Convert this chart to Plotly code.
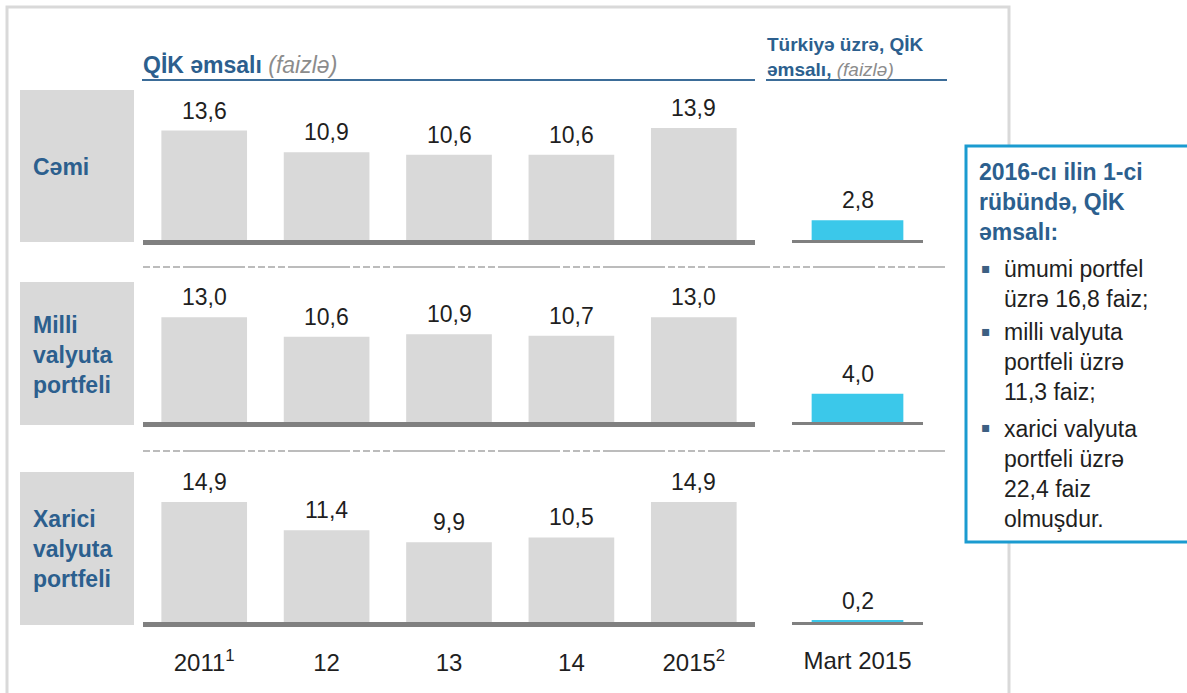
import plotly.graph_objects as go

# ---------------- data ----------------
categories = ["2011<sup>1</sup>", "12", "13", "14", "2015<sup>2</sup>"]
turkey_category = ["Mart 2015"]
row_labels = ["Cəmi", "Milli<br>valyuta<br>portfeli", "Xarici<br>valyuta<br>portfeli"]
total_values = [13.6, 10.9, 10.6, 10.6, 13.9]
national_values = [13.0, 10.6, 10.9, 10.7, 13.0]
foreign_values = [14.9, 11.4, 9.9, 10.5, 14.9]
turkey_values = [2.8, 4.0, 0.2]
title_main = "QİK əmsalı"
title_unit = "(faizlə)"
title_turkey = "Türkiyə üzrə, QİK<br>əmsalı,"
box_header = "2016-cı ilin 1-ci<br>rübündə, QİK<br>əmsalı:"
box_bullets = [
    "ümumi portfel<br>üzrə 16,8 faiz;",
    "milli valyuta<br>portfeli üzrə<br>11,3 faiz;",
    "xarici valyuta<br>portfeli üzrə<br>22,4 faiz<br>olmuşdur.",
]

series = [total_values, national_values, foreign_values]

# ---------------- layout helpers ----------------
W, H = 1187, 693
FONT = "Liberation Sans, Arial, sans-serif"
BLUE = "#2c5f8e"
GREY_BAR = "#d9d9d9"
CYAN = "#3bc8ea"
LINE_GREY = "#808080"
TXT = "#1f1f1f"


def px(x):
    return x / W


def py(y):
    return 1 - y / H


row_bottoms = [240, 422, 622]
row_height = 150
main_dom = [px(143), px(755)]
turkey_dom = [px(792), px(923)]
main_range = [0, row_height / 8.05]
turkey_range = [0, row_height / 7.05]

fig = go.Figure()
layout = {}
annotations = []

for r in range(3):
    ia = 2 * r + 1
    ib = 2 * r + 2
    ydom = [py(row_bottoms[r]), py(row_bottoms[r] - row_height)]
    last = r == 2

    fig.add_trace(go.Bar(
        x=categories, y=series[r], xaxis=f"x{ia}", yaxis=f"y{ia}",
        marker=dict(color=GREY_BAR, line=dict(width=0)), width=0.7,
        showlegend=False, hoverinfo="skip"))
    fig.add_trace(go.Bar(
        x=turkey_category, y=[turkey_values[r]], xaxis=f"x{ib}", yaxis=f"y{ib}",
        marker=dict(color=CYAN, line=dict(width=0)), width=0.7,
        showlegend=False, hoverinfo="skip"))

    for ax_i, dom, lw, rng, ncat in [(ia, main_dom, 5, main_range, len(categories)),
                                     (ib, turkey_dom, 3, turkey_range, 1)]:
        layout[f"xaxis{ax_i}"] = dict(
            domain=dom, anchor=f"y{ax_i}", type="category",
            range=[-0.5, ncat - 0.5],
            showline=True, linecolor=LINE_GREY, linewidth=lw,
            showgrid=False, zeroline=False,
            showticklabels=last, ticks="outside" if last else "",
            ticklen=15, tickcolor="rgba(0,0,0,0)", tickangle=0,
            tickfont=dict(family=FONT, size=24, color=TXT),
            fixedrange=True)
        layout[f"yaxis{ax_i}"] = dict(
            domain=ydom, anchor=f"x{ax_i}", range=rng, visible=False,
            fixedrange=True)

    # value labels
    for i, v in enumerate(series[r]):
        annotations.append(dict(
            x=i, y=v, xref=f"x{ia}", yref=f"y{ia}", text=f"{v:.1f}".replace(".", ","),
            showarrow=False, yanchor="bottom", yshift=5,
            font=dict(family=FONT, size=23, color=TXT)))
    tv = turkey_values[r]
    annotations.append(dict(
        x=0, y=tv, xref=f"x{ib}", yref=f"y{ib}",
        text=f"{tv:.1f}".replace(".", ","),
        showarrow=False, yanchor="bottom", yshift=5,
        font=dict(family=FONT, size=23, color=TXT)))

# row labels
row_label_centers = [167, 355, 549]
for lab, yc in zip(row_labels, row_label_centers):
    annotations.append(dict(
        x=px(31), y=py(yc), xref="paper", yref="paper", text=f"<b>{lab}</b>",
        showarrow=False, xanchor="left", yanchor="middle", align="left",
        font=dict(family=FONT, size=23, color=BLUE)))

# headers
annotations.append(dict(
    x=px(141), y=py(65), xref="paper", yref="paper",
    text=f"<b>{title_main}</b> <i><span style='color:#8c8c8c'>{title_unit}</span></i>",
    showarrow=False, xanchor="left", yanchor="middle",
    font=dict(family=FONT, size=23, color=BLUE)))
annotations.append(dict(
    x=px(765), y=py(56.5), xref="paper", yref="paper",
    text=f"<b>{title_turkey}</b> <i><span style='color:#8c8c8c'>{title_unit}</span></i>",
    showarrow=False, xanchor="left", yanchor="middle", align="left",
    font=dict(family=FONT, size=19, color=BLUE)))

# right info box text
annotations.append(dict(
    x=px(977), y=py(202), xref="paper", yref="paper", text=f"<b>{box_header}</b>",
    showarrow=False, xanchor="left", yanchor="middle", align="left",
    font=dict(family=FONT, size=23, color=BLUE)))
bullet_centers = [284, 362.5, 473.5]
bullet_first = [270, 333, 429]
for txt, yc, yf in zip(box_bullets, bullet_centers, bullet_first):
    annotations.append(dict(
        x=px(1002), y=py(yc), xref="paper", yref="paper", text=txt,
        showarrow=False, xanchor="left", yanchor="middle", align="left",
        font=dict(family=FONT, size=23, color=TXT)))
    annotations.append(dict(
        x=px(979), y=py(yf - 2), xref="paper", yref="paper", text="▪",
        showarrow=False, xanchor="left", yanchor="middle",
        font=dict(family="DejaVu Sans", size=14, color="#3d5f82")))

shapes = []
# outer frame
shapes.append(dict(type="rect", xref="paper", yref="paper",
                   x0=px(7), x1=px(1009), y0=py(7), y1=py(710),
                   line=dict(color="#d9d9d9", width=3), fillcolor="rgba(0,0,0,0)", layer="below"))
# row label boxes
for y0, y1 in [(90, 242), (282, 425), (472, 625)]:
    shapes.append(dict(type="rect", xref="paper", yref="paper",
                       x0=px(20), x1=px(134), y0=py(y1), y1=py(y0),
                       line=dict(width=0), fillcolor=GREY_BAR, layer="below"))
# header underlines
for x0, x1 in [(142, 755), (766, 947)]:
    shapes.append(dict(type="line", xref="paper", yref="paper",
                       x0=px(x0), x1=px(x1), y0=py(80), y1=py(80),
                       line=dict(color="#3b6c98", width=2)))
# dashed separators
for yy in [267, 451]:
    shapes.append(dict(type="line", xref="paper", yref="paper",
                       x0=px(143), x1=px(945), y0=py(yy), y1=py(yy),
                       line=dict(color="#a6a6a6", width=1.5,
                                 dash="7px,3px,7px,3px,7px,3px,7px,3px,62px,3px")))
# info box
shapes.append(dict(type="rect", xref="paper", yref="paper",
                   x0=px(966), x1=px(1200), y0=py(542), y1=py(146),
                   line=dict(color="#1b9bd0", width=3), fillcolor="white", layer="below"))

fig.update_layout(
    **layout,
    annotations=annotations,
    shapes=shapes,
    width=W, height=H,
    autosize=False,
    margin=dict(l=0, r=0, t=0, b=0, pad=0),
    paper_bgcolor="white", plot_bgcolor="rgba(0,0,0,0)",
    bargap=0.3,
    showlegend=False,
    font=dict(family=FONT),
)

fig.write_html(
    "out.html",
    config={"displayModeBar": False, "responsive": False},
    post_script="document.body.style.margin='0';document.body.style.overflow='hidden';",
)
